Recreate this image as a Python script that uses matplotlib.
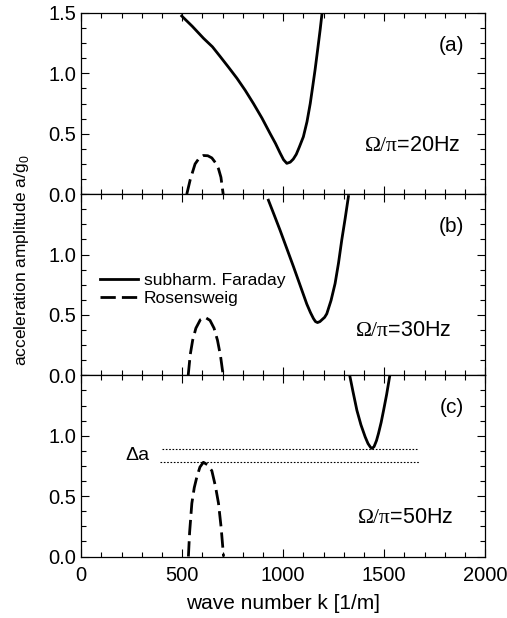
import matplotlib
matplotlib.use('Agg')
import matplotlib.pyplot as plt
from matplotlib.ticker import MultipleLocator, FormatStrFormatter

plt.rcParams['font.family'] = ['Liberation Sans', 'DejaVu Sans']
plt.rcParams['mathtext.fontset'] = 'custom'
plt.rcParams['mathtext.rm'] = 'Liberation Serif'
plt.rcParams['mathtext.sf'] = 'Liberation Sans'

# values: wave number k [1/m], amplitude a/g0
far_a_k = [498, 550, 606, 650, 688, 730, 771, 812, 853, 895, 936, 962, 985, 1002, 1018,
           1035, 1050, 1065, 1080, 1100, 1118, 1134, 1147, 1158, 1171, 1183, 1194]
far_a_y = [1.475, 1.39, 1.29, 1.22, 1.14, 1.05, 0.96, 0.86, 0.75, 0.63, 0.50, 0.42, 0.34, 0.285, 0.255,
           0.265, 0.29, 0.33, 0.39, 0.475, 0.6, 0.75, 0.9, 1.03, 1.2, 1.36, 1.52]
ros_a_k = [523, 540, 564, 585, 605, 627, 647, 665, 680, 692, 703]
ros_a_y = [0.0, 0.12, 0.25, 0.30, 0.32, 0.318, 0.30, 0.26, 0.21, 0.14, 0.0]

far_b_k = [927, 955, 985, 1018, 1051, 1084, 1117, 1135, 1150, 1160, 1170, 1182, 1195, 1205,
           1216, 1237, 1257, 1274, 1290, 1307, 1323]
far_b_y = [1.45, 1.33, 1.20, 1.05, 0.90, 0.745, 0.59, 0.52, 0.47, 0.445, 0.437, 0.445, 0.465, 0.48,
           0.51, 0.62, 0.76, 0.93, 1.12, 1.30, 1.48]
ros_b_k = [530, 540, 552, 568, 590, 614, 638, 658, 675, 690, 703]
ros_b_y = [0.0, 0.17, 0.29, 0.39, 0.46, 0.48, 0.455, 0.39, 0.29, 0.16, 0.0]

far_c_k = [1327, 1345, 1365, 1385, 1406, 1420, 1432, 1440, 1450, 1462, 1472, 1485, 1497, 1512, 1530]
far_c_y = [1.52, 1.37, 1.21, 1.09, 0.99, 0.935, 0.905, 0.895, 0.91, 0.96, 1.02, 1.11, 1.21, 1.34, 1.52]
ros_c_k = [531, 537, 548, 560, 573, 588, 605, 625, 647, 665, 680, 693, 705]
ros_c_y = [0.0, 0.2, 0.44, 0.57, 0.66, 0.74, 0.78, 0.76, 0.71, 0.58, 0.44, 0.24, 0.0]

panel_tags = ['(a)', '(b)', '(c)']
freqs = ['20Hz', '30Hz', '50Hz']
far_k = [far_a_k, far_b_k, far_c_k]
far_y = [far_a_y, far_b_y, far_c_y]
ros_k = [ros_a_k, ros_b_k, ros_c_k]
ros_y = [ros_a_y, ros_b_y, ros_c_y]

# the two dotted levels marking delta a in panel (c)
delta_levels = [0.894, 0.78]
delta_spans = [(400, 1660), (390, 1670)]

freq_x = [1876, 1835, 1841]
freq_y = [0.40, 0.37, 0.32]

fig = plt.figure(figsize=(5.07, 6.18), dpi=100)
gs = fig.add_gridspec(3, 1, left=0.16, right=0.957, top=0.979, bottom=0.0995, hspace=0)
axes = [fig.add_subplot(gs[i]) for i in range(3)]

for i, ax in enumerate(axes):
    l1, = ax.plot(far_k[i], far_y[i], color='black', lw=2.0)
    l2, = ax.plot(ros_k[i], ros_y[i], color='black', lw=2.0, dashes=(5.5, 2.2))
    ax.set_xlim(0, 2000)
    ax.set_ylim(0, 1.5)
    ax.xaxis.set_major_locator(MultipleLocator(500))
    ax.xaxis.set_minor_locator(MultipleLocator(100))
    ax.yaxis.set_major_locator(MultipleLocator(0.5))
    ax.yaxis.set_minor_locator(MultipleLocator(0.125))
    ax.yaxis.set_major_formatter(FormatStrFormatter('%.1f'))
    ax.tick_params(which='both', direction='in', top=True, right=True, labelsize=14.5, width=0.8)
    ax.tick_params(which='major', length=6)
    ax.tick_params(which='minor', length=3.5)
    ax.tick_params(axis='x', pad=7)
    for s in ax.spines.values():
        s.set_linewidth(0.9)
    if i < 2:
        ax.tick_params(labelbottom=False)
    if i > 0:
        ax.set_yticks([0, 0.5, 1.0])
    ax.text(1835, 1.23, panel_tags[i], fontsize=15, ha='center', va='center')
    ax.text(freq_x[i], freq_y[i], r'$\mathrm{\Omega/\pi}$=' + freqs[i], fontsize=15.5,
            ha='right', va='center')
    if i == 1:
        ax.legend([l1, l2], ['subharm. Faraday', 'Rosensweig'], loc='upper left',
                  bbox_to_anchor=(0.047, 0.567), frameon=False, fontsize=12.5,
                  borderpad=0, borderaxespad=0, handlelength=2.2, handletextpad=0.3,
                  labelspacing=0.2)

for lev, (x0, x1) in zip(delta_levels, delta_spans):
    axes[2].plot([x0, x1], [lev, lev], color='black', lw=0.8, ls=(0, (1.5, 1.5)))
axes[2].text(340, 0.835, 'Δa', fontsize=14, ha='right', va='center')

axes[2].set_xlabel('wave number k [1/m]', fontsize=15, labelpad=6)
fig.text(0.043, 1 - 260 / 618, r'acceleration amplitude a/g$_\mathsf{0}$', fontsize=12.5,
         rotation=90, ha='center', va='center')

fig.savefig('out.png', dpi=100)
